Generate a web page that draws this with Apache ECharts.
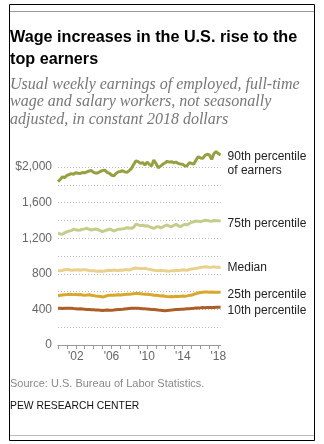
<!DOCTYPE html>
<html><head><meta charset="utf-8">
<script src="https://cdn.jsdelivr.net/npm/echarts@6/dist/echarts.min.js"></script>
<style>html,body{margin:0;padding:0;background:#fff}#c{width:324px;height:444px}</style>
</head><body><div id="c"></div>
<script>
// Quarterly, 2000 Q1 .. 2018 Q2
const years = [];
for (let y = 2000; y <= 2018; y++) for (let q = 0; q < 4; q++) { if (y === 2018 && q > 1) break; years.push(y + q / 4); }
const p90 = [1835,1860,1890,1880, 1905,1915,1925,1918, 1935,1930,1928,1938, 1935,1945,1955,1960,
  1940,1930,1935,1950, 1960,1965,1940,1930, 1910,1900,1925,1945, 1950,1958,1945,1940,
  1960,1985,2030,2070, 2060,2040,2050,2022, 2056,2030,2011,2079, 2040,1992,2010,2030,
  2045,2064,2055,2060, 2048,2055,2040,2034, 2030,2011,2015,2048, 2040,2034,2080,2116,
  2100,2097,2130,2143, 2135,2086,2150,2172, 2150,2135];
const p75 = [1255,1248,1244,1260, 1273,1280,1285,1300, 1295,1289,1292,1300, 1305,1311,1300,1292,
  1298,1303,1295,1285, 1273,1285,1292,1303, 1295,1280,1290,1300, 1300,1305,1310,1318,
  1315,1311,1325,1356, 1350,1341,1345,1337, 1340,1330,1320,1311, 1325,1330,1318,1325,
  1340,1348,1335,1330, 1345,1356,1340,1330, 1345,1356,1350,1365, 1379,1385,1393,1390,
  1386,1395,1401,1398, 1393,1390,1400,1397, 1397,1392];
const p50 = [835,833,838,845, 850,845,840,843, 843,846,840,845, 846,842,838,835,
  835,830,828,832, 828,832,838,840, 838,843,840,835, 843,840,845,845,
  843,848,862,865, 862,860,858,862, 855,850,845,840, 838,835,840,836,
  835,832,830,835, 835,838,836,840, 845,843,840,850, 855,858,862,865,
  870,875,880,876, 872,875,878,873, 873,872];
const p25 = [554,558,562,565, 567,570,568,566, 567,565,568,562, 560,562,565,560,
  555,550,548,545, 540,545,555,560, 560,558,562,565, 562,565,568,570,
  570,572,577,580, 578,575,572,570, 570,567,565,560, 558,555,551,553,
  548,545,543,545, 543,548,545,548, 550,548,552,558, 560,570,577,585,
  590,593,596,595, 592,596,594,592, 594,592];
const p10 = [412,414,410,412, 413,412,414,410, 408,405,406,404, 402,400,398,395,
  395,393,392,390, 388,390,392,390, 390,392,395,398, 400,402,405,408,
  410,412,414,412, 412,410,408,406, 405,403,400,398, 395,392,390,388,
  386,388,390,392, 395,398,400,402, 403,405,407,408, 410,412,415,417,
  418,420,419,420, 420,422,421,423, 424,423];
const seriesNames = ['90th percentile\nof earners', '75th percentile', 'Median', '25th percentile', '10th percentile'];
const seriesColors = ['#97a040', '#c6cd8c', '#e9d08c', '#d8a82c', '#ad5d26'];
const labelDy = [9, 3, 0, 2, 3];
const xTickLabels = {2002: "'02", 2006: "'06", 2010: "'10", 2014: "'14", 2018: "'18"};
const yTickLabels = {0: '0', 400: '400', 800: '800', 1200: '1,200', 1600: '1,600', 2000: '$2,000'};

const all = [p90, p75, p50, p25, p10];
const chart = echarts.init(document.getElementById('c'), null, {renderer: 'canvas'});
const F = 'Liberation Sans, Arial, sans-serif';
const gridColors = [];
for (let v = 0; v <= 2200; v += 200) gridColors.push(v === 2200 ? 'rgba(0,0,0,0)' : '#b8b8b8');

chart.setOption({
  animation: false,
  grid: {left: 58, top: 149.2, width: 162.6, height: 195.8},
  xAxis: {
    type: 'value', min: 2000, max: 2018.25, interval: 1,
    axisLine: {lineStyle: {color: '#999', width: 1}},
    axisTick: {show: true, length: 4, lineStyle: {color: '#999'}},
    splitLine: {show: false},
    axisLabel: {color: '#666', fontSize: 12, fontFamily: F, margin: 6, showMaxLabel: false,
      formatter: v => xTickLabels[v] || ''}
  },
  yAxis: {
    type: 'value', min: 0, max: 2200, interval: 200,
    axisLine: {show: false}, axisTick: {show: false},
    splitLine: {show: true, lineStyle: {color: gridColors, type: [1, 2], width: 1}},
    axisLabel: {color: '#666', fontSize: 12, fontFamily: F, margin: 6,
      formatter: v => yTickLabels[v] || ''}
  },
  series: all.map((d, i) => ({
    type: 'line', name: seriesNames[i], showSymbol: false, symbol: 'none',
    data: d.map((v, k) => [years[k], v]),
    lineStyle: {color: seriesColors[i], width: 3},
    itemStyle: {color: seriesColors[i]},
    endLabel: {show: true, formatter: seriesNames[i], distance: 7, color: '#222',
      fontSize: 12, fontFamily: F, lineHeight: 14, offset: [0, labelDy[i]]},
    z: 5 - i
  })),
  graphic: [
    {type: 'rect', shape: {x: 9.5, y: 4.5, width: 305, height: 436}, style: {fill: 'none', stroke: '#000', lineWidth: 1}},
    {type: 'line', shape: {x1: 10, y1: 11.5, x2: 314, y2: 11.5}, style: {stroke: '#999', lineWidth: 1}},
    {type: 'line', shape: {x1: 10, y1: 435.5, x2: 314, y2: 435.5}, style: {stroke: '#bbb', lineWidth: 1}},
    {type: 'text', left: 10, top: 27, style: {text: 'Wage increases in the U.S. rise to the\ntop earners',
      fill: '#000', font: 'bold 16.2px ' + F, lineHeight: 22}},
    {type: 'text', left: 10, top: 76, style: {text: 'Usual weekly earnings of employed, full-time\nwage and salary workers, not seasonally\nadjusted, in constant 2018 dollars',
      fill: '#777', font: 'italic 16px "Liberation Serif", serif', lineHeight: 17.5}},
    {type: 'text', left: 10, top: 378, style: {text: 'Source: U.S. Bureau of Labor Statistics.', fill: '#888', font: '11px ' + F}},
    {type: 'text', x: 10, y: 400, scaleX: 0.94, style: {text: 'PEW RESEARCH CENTER', fill: '#111', font: '11px ' + F}}
  ]
});
</script></body></html>
